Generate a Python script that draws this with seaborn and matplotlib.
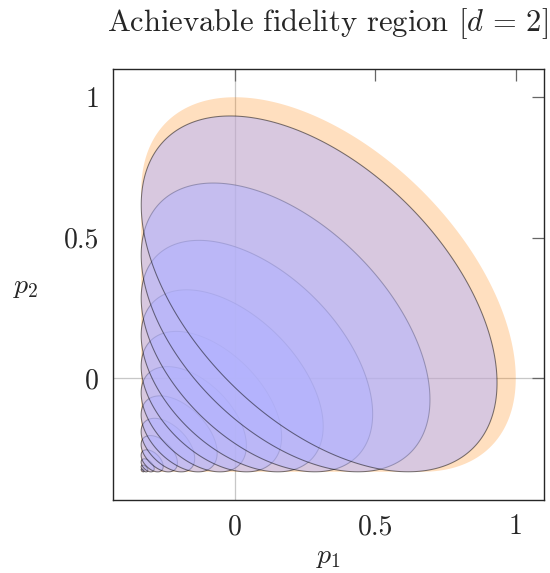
import numpy as np
import matplotlib
matplotlib.use("Agg")
import matplotlib.pyplot as plt
import seaborn as sns

# ---- data ----
p_min = -1.0 / 3.0                 # lower bound of p1, p2 (corner of the region)
boundary_center = 1.0 / 3.0        # centre (c, c) of the outer (orange) boundary ellipse
boundary_semi_diag = 0.471         # semi-axis along the diagonal
boundary_semi_anti = 0.816         # semi-axis along the anti-diagonal
# scale factors (about the corner) of the nested purple ellipses, largest first
ellipse_scales = [0.950, 0.771, 0.618, 0.486, 0.375, 0.281, 0.203,
                  0.143, 0.097, 0.059, 0.035, 0.018, 0.008]
tick_values = [0, 0.5, 1]
tick_labels = ["0", "0.5", "1"]
title_text = r"Achievable fidelity region $[d\,=\,2]$"
xlabel_text = r"$p_1$"
ylabel_text = r"$p_2$"

sns.set_theme(style="white")
plt.rcParams["font.family"] = ["cmr10", "DejaVu Serif"]
plt.rcParams["mathtext.fontset"] = "cm"
plt.rcParams["axes.formatter.use_mathtext"] = True
plt.rcParams["axes.unicode_minus"] = False


def ellipse_xy(c, a, b, t):
    x = c + (a * np.cos(t) - b * np.sin(t)) / np.sqrt(2)
    y = c + (a * np.cos(t) + b * np.sin(t)) / np.sqrt(2)
    return x, y


fig = plt.figure(figsize=(5.5, 5.73), dpi=100)
ax = fig.add_axes([113 / 550, 1 - 500 / 573, 431 / 550, 431 / 573])

# zero lines
ax.axhline(0, color="0.78", lw=0.9, zorder=0.5)
ax.axvline(0, color="0.78", lw=0.9, zorder=0.5)

# outer achievable region: ellipse arc + straight edges to the corner
a, b = boundary_semi_diag, boundary_semi_anti
t_left = np.arctan2(b, -a)
t_bottom = np.arctan2(-b, -a)
t = np.linspace(t_bottom, t_left, 400)
ox, oy = ellipse_xy(boundary_center, a, b, t)
ox = np.concatenate([ox, [p_min]])
oy = np.concatenate([oy, [p_min]])
ax.fill(ox, oy, facecolor=(1.0, 0.5, 0.0, 0.25), edgecolor="none", zorder=1)

# nested ellipses, smallest drawn first
tt = np.linspace(0, 2 * np.pi, 400)
for s in sorted(ellipse_scales):
    c = p_min + s * (boundary_center - p_min)
    ex, ey = ellipse_xy(c, s * a, s * b, tt)
    ax.fill(ex, ey, facecolor=(179 / 255, 179 / 255, 1.0, 0.5),
            edgecolor=(0.0, 0.0, 0.0, 0.5), lw=0.75, zorder=2)

ax.set_xlim(-0.4333, 1.1)
ax.set_ylim(-0.4333, 1.1)
ax.set_xticks(tick_values)
ax.set_xticklabels(tick_labels)
ax.set_yticks(tick_values)
ax.set_yticklabels(tick_labels)
ax.tick_params(direction="in", length=8.4, width=0.9, color="0.4",
               top=True, right=True, labelsize=20, pad=10)
for sp in ax.spines.values():
    sp.set_color("0.15")
    sp.set_linewidth(1.0)
    sp.set_zorder(5)

ax.set_xlabel(xlabel_text, fontsize=20)
ax.xaxis.set_label_coords(0.5, -0.102)
ax.xaxis.label.set_va("top")
ax.set_ylabel(ylabel_text, fontsize=20, rotation=0, ha="center", va="center")
ax.yaxis.set_label_coords(-0.202, 0.494)

fig.text(327 / 550, 1 - 31 / 573, title_text, ha="center", va="baseline",
         fontsize=22)

fig.savefig("out.png", dpi=100)
